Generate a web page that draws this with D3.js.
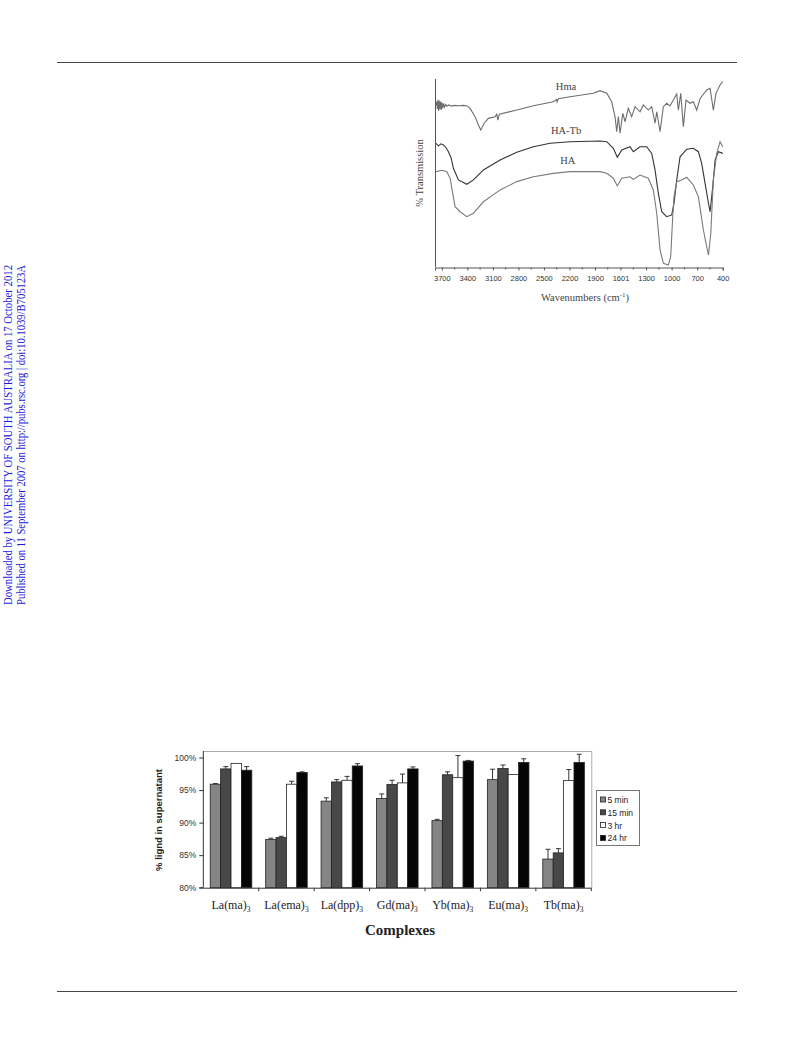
<!DOCTYPE html>
<html><head><meta charset="utf-8">
<script src="https://cdn.jsdelivr.net/npm/d3@7"></script>
<style>html,body{margin:0;padding:0;background:#fff;}svg{display:block;}</style>
</head><body>
<svg id="page" width="793" height="1040"></svg>
<script>
// ---------- Bar chart data ----------
const complexes = ["La(ma)", "La(ema)", "La(dpp)", "Gd(ma)", "Yb(ma)", "Eu(ma)", "Tb(ma)"];
const seriesNames = ["5 min", "15 min", "3 hr", "24 hr"];
const yTicks = [80, 85, 90, 95, 100];
const values5min  = [95.9, 87.4, 93.3, 93.7, 90.3, 96.6, 84.4];
const values15min = [98.25, 87.7, 96.25, 95.85, 97.35, 98.3, 85.35];
const values3hr   = [99.1, 95.9, 96.5, 96.1, 96.9, 97.4, 96.45];
const values24hr  = [98.05, 97.7, 98.7, 98.25, 99.45, 99.25, 99.25];
const err5min  = [0.1, 0.2, 0.5, 0.7, 0.2, 1.6, 1.5];
const err15min = [0.35, 0.2, 0.35, 0.65, 0.45, 0.55, 0.65];
const err3hr   = [0, 0.45, 0.6, 1.35, 3.4, 0, 1.7];
const err24hr  = [0.55, 0.1, 0.35, 0.3, 0.1, 0.55, 1.25];

// ---------- IR spectra data (wavenumber, % transmission, arbitrary) ----------
const irTicks = [3700, 3400, 3100, 2800, 2500, 2200, 1900, 1601, 1300, 1000, 700, 400];
const hmaSpectrum = [
 [3767,86],[3760,88],[3752,84],[3745,89],[3738,83],[3730,88.5],[3722,84],[3714,88],[3706,83.5],[3698,87.5],
 [3690,84.5],[3680,87],[3670,85],[3655,86.5],[3640,85.5],[3620,86.2],[3590,85.6],[3550,86],[3500,85.8],[3446,86],
 [3406,85.7],[3368,84.4],[3309,80.0],[3270,75.6],[3242,72.9],[3203,76.5],[3153,79.1],[3074,80.0],[3054,81.3],
 [3042,78.2],[3024,81.3],[2819,83.5],[2624,85.8],[2389,87.9],[2350,89.2],[2346,87.8],[2330,89.5],[2193,90.6],
 [1920,92.4],[1842,93.8],[1762,92.4],[1704,87.9],[1665,80.0],[1645,72.0],[1626,80.0],[1606,71.2],[1574,81.8],
 [1547,77.3],[1509,84.4],[1469,80.0],[1430,85.3],[1371,82.6],[1332,86.2],[1274,83.5],[1234,85.3],[1195,76.5],
 [1175,82.6],[1136,72.0],[1097,85.3],[1058,87.1],[1019,85.7],[980,88.8],[940,92.0],[921,83.5],[893,92.4],
 [862,74.7],[831,88.8],[784,87.1],[745,87.9],[705,83.5],[665,89.7],[587,94.2],[548,95.1],[510,83.5],[479,92.4],
 [431,96.8],[400,98.6]
];
const haTbSpectrum = [
 [3767,65.8],[3740,64.5],[3710,65.6],[3681,65.0],[3650,63.5],[3622,61.4],[3590,58],[3564,52.6],[3505,46.4],
 [3406,44.1],[3329,46.4],[3211,51.7],[3015,57.0],[2819,61.1],[2624,64.0],[2428,65.9],[2193,66.7],[1842,67.1],
 [1762,66.7],[1685,63.2],[1638,58.4],[1586,62.3],[1489,64.0],[1450,61.4],[1371,64.0],[1293,64.0],[1234,60.5],
 [1195,51.7],[1156,39.3],[1116,29.5],[1058,26.9],[999,27.8],[972,34.0],[940,46.4],[901,58.7],[823,62.7],
 [745,63.2],[686,61.4],[647,55.2],[607,44.6],[567,34.0],[548,29.5],[517,42.8],[489,57.0],[450,61.4],[400,60.5]
];
const haSpectrum = [
 [3767,50.8],[3700,51.5],[3641,50.8],[3600,47],[3583,42.0],[3544,32.2],[3485,29.5],[3406,26.9],[3329,28.7],
 [3211,34.8],[3015,41.1],[2819,45.5],[2624,48.1],[2389,49.9],[2193,50.8],[1842,50.8],[1762,49.9],[1685,47.3],
 [1638,43.2],[1586,47.3],[1489,48.1],[1450,46.7],[1371,49.0],[1274,47.3],[1215,41.1],[1175,28.7],[1136,9.2],
 [1097,2.1],[1039,1.2],[1011,5.6],[987,26.9],[972,37.5],[940,45.5],[881,46.4],[823,47.8],[745,43.7],[686,37.5],
 [627,19.8],[596,12.7],[567,6.5],[540,18.1],[510,46.4],[470,60.5],[431,66.7],[400,64.0]
];
const spectrumLabels = ["Hma", "HA-Tb", "HA"];
const spectrumLabelPos = [[2240, 95.9], [2240, 72.9], [2220, 56.6]];

const svg = d3.select("#page");

// ---------- page decorations ----------
svg.append("line").attr("x1", 57).attr("x2", 737).attr("y1", 62.5).attr("y2", 62.5).attr("stroke", "#444").attr("stroke-width", 1);
svg.append("line").attr("x1", 57).attr("x2", 737).attr("y1", 991.5).attr("y2", 991.5).attr("stroke", "#444").attr("stroke-width", 1);
const sideLines = ["Downloaded by UNIVERSITY OF SOUTH AUSTRALIA on 17 October 2012",
                   "Published on 11 September 2007 on http://pubs.rsc.org | doi:10.1039/B705123A"];
sideLines.forEach((t, i) => {
  svg.append("text").attr("transform", `translate(${12 + i * 13},605) rotate(-90)`)
    .attr("font-family", "Liberation Serif, Times New Roman, serif").attr("font-size", 11.5)
    .attr("fill", "#1a1adc").attr("textLength", 340).attr("lengthAdjust", "spacingAndGlyphs").text(t);
});

// ---------- IR spectrum ----------
const ix = d3.scaleLinear().domain([3780, 400]).range([435, 722.7]);
const iy = d3.scaleLinear().domain([0, 100]).range([267.3, 79]);
const ir = svg.append("g");
ir.append("line").attr("x1", 435.5).attr("x2", 435.5).attr("y1", 79).attr("y2", 267.3).attr("stroke", "#555");
const irAxis = ir.append("g").attr("transform", "translate(0,267.5)")
  .call(d3.axisBottom(ix).tickValues(irTicks).tickSize(3).tickFormat(d => String(d)));
irAxis.select(".domain").attr("stroke", "#555");
irAxis.selectAll(".tick line").attr("stroke", "#555");
irAxis.selectAll(".tick text").attr("font-family", "Liberation Sans, Arial, sans-serif").attr("font-size", 7.5).attr("fill", "#333").attr("dy", "0.95em");
const minorTicks = irTicks.slice(0, -1).map((d, i) => (d + irTicks[i + 1]) / 2);
ir.selectAll(".minor").data(minorTicks).join("line").attr("class", "minor")
  .attr("x1", d => ix(d)).attr("x2", d => ix(d)).attr("y1", 267.5).attr("y2", 269.5).attr("stroke", "#555");
const line = d3.line().x(d => ix(d[0])).y(d => iy(d[1]));
[[hmaSpectrum, "#6e6e6e"], [haTbSpectrum, "#333"], [haSpectrum, "#7a7a7a"]].forEach(([d, c]) => {
  ir.append("path").datum(d).attr("d", line).attr("fill", "none").attr("stroke", c).attr("stroke-width", 1.1);
});
spectrumLabels.forEach((t, i) => {
  ir.append("text").attr("x", ix(spectrumLabelPos[i][0])).attr("y", iy(spectrumLabelPos[i][1]))
    .attr("dy", "0.35em").attr("text-anchor", "middle")
    .attr("font-family", "Liberation Serif, Times New Roman, serif").attr("font-size", 10.5).attr("fill", "#444").text(t);
});
ir.append("text").attr("transform", "translate(423,173) rotate(-90)").attr("text-anchor", "middle")
  .attr("font-family", "Liberation Serif, Times New Roman, serif").attr("font-size", 10.5).attr("fill", "#444").text("% Transmission");
const wt = ir.append("text").attr("x", 585).attr("y", 301).attr("text-anchor", "middle")
  .attr("font-family", "Liberation Serif, Times New Roman, serif").attr("font-size", 10.5).attr("fill", "#444");
wt.append("tspan").text("Wavenumbers (cm");
wt.append("tspan").attr("font-size", 7).attr("dy", -4).text("-1");
wt.append("tspan").attr("dy", 4).text(")");

// ---------- Bar chart ----------
const bx0 = 203.3, bx1 = 591.3, byB = 887.7, byT = 751;
const x0 = d3.scaleBand().domain(complexes).range([bx0, bx1]).paddingInner(0.25).paddingOuter(0.125);
const x1 = d3.scaleBand().domain(seriesNames).range([0, x0.bandwidth()]);
const y = d3.scaleLinear().domain([80, 101]).range([byB, byT]);
const colors = d3.scaleOrdinal().domain(seriesNames).range(["#858585", "#484848", "#ffffff", "#050505"]);
const allVals = [values5min, values15min, values3hr, values24hr];
const allErr = [err5min, err15min, err3hr, err24hr];
const bars = [];
complexes.forEach((c, i) => seriesNames.forEach((s, j) => bars.push({c, s, v: allVals[j][i], e: allErr[j][i]})));

const bc = svg.append("g");
// plot box (top/right)
bc.append("path").attr("d", `M${bx0},${byT + 0.5}H${bx1 + 0.5}V${byB}`).attr("fill", "none").attr("stroke", "#aaa");

bc.selectAll("rect.bar").data(bars).join("rect").attr("class", "bar")
  .attr("x", d => x0(d.c) + x1(d.s)).attr("width", x1.bandwidth())
  .attr("y", d => y(d.v)).attr("height", d => byB - y(d.v))
  .attr("fill", d => colors(d.s)).attr("stroke", "#222").attr("stroke-width", 0.8);
const eb = bars.filter(d => d.e > 0);
bc.selectAll("line.err").data(eb).join("line").attr("class", "err")
  .attr("x1", d => x0(d.c) + x1(d.s) + x1.bandwidth() / 2).attr("x2", d => x0(d.c) + x1(d.s) + x1.bandwidth() / 2)
  .attr("y1", d => y(d.v)).attr("y2", d => y(d.v + d.e)).attr("stroke", "#333").attr("stroke-width", 1);
bc.selectAll("line.cap").data(eb).join("line").attr("class", "cap")
  .attr("x1", d => x0(d.c) + x1(d.s) + x1.bandwidth() / 2 - 2.5).attr("x2", d => x0(d.c) + x1(d.s) + x1.bandwidth() / 2 + 2.5)
  .attr("y1", d => y(d.v + d.e)).attr("y2", d => y(d.v + d.e)).attr("stroke", "#333").attr("stroke-width", 1);

// y axis
const yAxis = bc.append("g").attr("transform", `translate(${bx0},0)`)
  .call(d3.axisLeft(y).tickValues(yTicks).tickSize(4).tickFormat(d => d + "%"));
yAxis.select(".domain").attr("stroke", "#333").attr("d", `M-4,${byB}H0V${byT}`);
yAxis.selectAll(".tick line").attr("stroke", "#333");
yAxis.selectAll(".tick text").attr("font-family", "Liberation Sans, Arial, sans-serif").attr("font-size", 8.5).attr("fill", "#333").attr("x", -7);

// x axis
bc.append("line").attr("x1", bx0).attr("x2", bx1).attr("y1", byB + 0.5).attr("y2", byB + 0.5).attr("stroke", "#333");
const bounds = complexes.map(c => x0(c) + x0.bandwidth() + x0.step() * x0.paddingInner() / 2);
bc.selectAll("line.xt").data(bounds).join("line").attr("class", "xt")
  .attr("x1", d => d).attr("x2", d => d).attr("y1", byB).attr("y2", byB + 3.5).attr("stroke", "#333");
const cl = bc.selectAll("text.cat").data(complexes).join("text").attr("class", "cat")
  .attr("x", d => x0(d) + x0.bandwidth() / 2).attr("y", 909).attr("text-anchor", "middle")
  .attr("font-family", "Liberation Serif, Times New Roman, serif").attr("font-size", 12).attr("fill", "#222");
cl.append("tspan").text(d => d);
cl.append("tspan").attr("font-size", 7.5).attr("dy", 2.5).text("3");

bc.append("text").attr("x", 400).attr("y", 935).attr("text-anchor", "middle")
  .attr("font-family", "Liberation Serif, Times New Roman, serif").attr("font-weight", "bold").attr("font-size", 15).attr("fill", "#222").text("Complexes");
bc.append("text").attr("transform", "translate(162,820) rotate(-90)").attr("text-anchor", "middle")
  .attr("font-family", "Liberation Sans, Arial, sans-serif").attr("font-weight", "bold").attr("font-size", 9.5).attr("fill", "#222").text("% lignd in supernatant");

// legend
const lg = bc.append("g");
lg.append("rect").attr("x", 596.5).attr("y", 790.5).attr("width", 43).attr("height", 55).attr("fill", "#fff").attr("stroke", "#777");
seriesNames.forEach((s, i) => {
  const yy = 800 + i * 12.8;
  lg.append("rect").attr("x", 600.5).attr("y", yy - 3).attr("width", 5).attr("height", 5).attr("fill", colors(s)).attr("stroke", "#222").attr("stroke-width", 0.8);
  lg.append("text").attr("x", 607.5).attr("y", yy).attr("dy", "0.35em")
    .attr("font-family", "Liberation Sans, Arial, sans-serif").attr("font-size", 8.5).attr("fill", "#222").text(s);
});
</script>
</body></html>
